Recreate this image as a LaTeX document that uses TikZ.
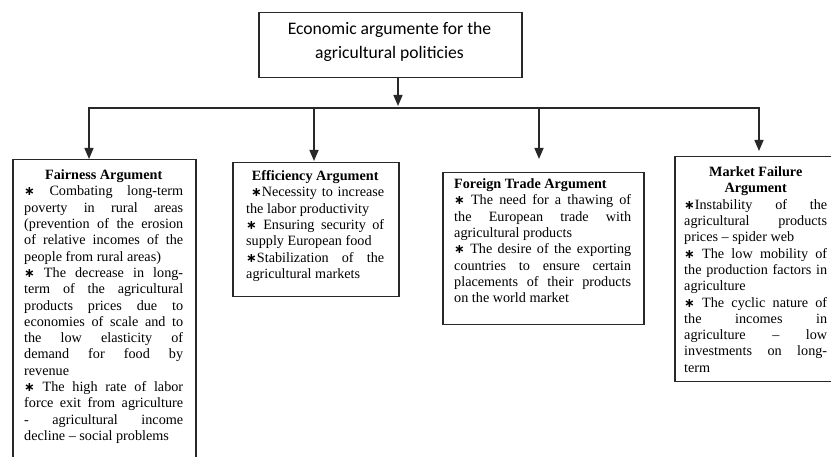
\documentclass[tikz,border=0pt]{standalone}
\usepackage{fontspec}
\setmainfont{Liberation Serif}
\newfontfamily\calfont{Carlito}
\newfontfamily\symfont{DejaVu Sans}[Scale=0.9]
\usetikzlibrary{arrows.meta}
\newcommand{\St}{{\symfont\bfseries ∗}}
\newcommand{\J}[1]{\hbox to\hsize{\strut#1}}
\newcommand{\R}[1]{\hbox{\strut#1}}
\newcommand{\C}[1]{\hbox to\hsize{\strut\hfil#1\hfil}}
\definecolor{ln}{RGB}{40,40,40}
\tikzset{
 box/.style={draw=ln, line width=1.5pt, inner sep=0pt, anchor=north west},
 txt/.style={inner sep=0pt, anchor=north west, font=\fontsize{14.2}{16.3}\selectfont, text=black},
 arr/.style={draw=ln, line width=1.5pt, -{Triangle[length=11pt,width=9pt]}},
 bus/.style={draw=ln, line width=1.5pt, line cap=rect}
}
\begin{document}
\begin{tikzpicture}[x=1pt,y=-1pt]
\useasboundingbox (0,0) rectangle (831,457);
\clip (0,0) rectangle (831,457);
\fill[white] (0,0) rectangle (831,457);

% boxes
\node[box, minimum width=263pt, minimum height=65pt] (top) at (258,12) {};
\node[box, minimum width=183pt, minimum height=330pt] (fair) at (12,159) {};
\node[box, minimum width=166pt, minimum height=134pt] (eff) at (232,162) {};
\node[box, minimum width=201pt, minimum height=152pt] (ftr) at (442,172) {};
\node[box, minimum width=170pt, minimum height=225pt] (mkt) at (674,156) {};

% title text
\node[inner sep=0pt, font=\calfont\fontsize{17.6}{24}\selectfont] (toptxt) at (389.5,42.2)
 {\vtop{\hsize=230pt \C{Economic argumente for the}\C{agricultural politicies}}};

% fairness
\node[txt] (fairtxt) at (24,168) {\vtop{\hsize=159pt
\C{\bfseries Fairness Argument}
\J{\St{} Combating long-term}
\J{poverty in rural areas}
\J{(prevention of the erosion}
\J{of relative incomes of the}
\R{people from rural areas)}
\J{\St{} The decrease in long-}
\J{term of the agricultural}
\J{products prices due to}
\J{economies of scale and to}
\J{the low elasticity of}
\J{demand for food by}
\R{revenue}
\J{\St{} The high rate of labor}
\J{force exit from agriculture}
\J{- agricultural income}
\R{decline – social problems}}};

% efficiency
\node[txt] (efftxt) at (246,169) {\vtop{\hsize=138pt
\C{\bfseries Efficiency Argument}
\J{ \St{}Necessity to increase}
\R{the labor productivity}
\J{\St{} Ensuring security of}
\R{supply European food}
\J{\St{}Stabilization of the}
\R{agricultural markets}}};

% foreign trade
\node[txt] (ftrtxt) at (454,177) {\vtop{\hsize=177pt
\R{\bfseries Foreign Trade Argument}
\J{\St{} The need for a thawing of}
\J{the European trade with}
\R{agricultural products}
\J{\St{} The desire of the exporting}
\J{countries to ensure certain}
\J{placements of their products}
\R{on the world market}}};

% market failure
\node[txt] (mkttxt) at (684,165) {\vtop{\hsize=143pt
\C{\bfseries Market Failure}
\C{\bfseries Argument}
\J{\St{}Instability of the}
\J{agricultural products}
\R{prices – spider web}
\J{\St{} The low mobility of}
\J{the production factors in}
\R{agriculture}
\J{\St{} The cyclic nature of}
\J{the incomes in}
\J{agriculture – low}
\J{investments on long-}
\R{term}}};

% connectors
\coordinate (bT) at (398,108);
\coordinate (bF) at (89,108);
\coordinate (bE) at (314,108);
\coordinate (bR) at (539,108);
\coordinate (bM) at (759,108);
\draw[bus] (bF) -- (bM);
\draw[arr, shorten >=2pt] (bT |- top.south) -- (bT);
\draw[arr] (bF) -- (bF |- fair.north);
\draw[arr, shorten >=1pt] (bE) -- (bE |- eff.north);
\draw[arr, shorten >=13pt] (bR) -- (bR |- ftr.north);
\draw[arr, shorten >=5pt] (bM) -- (bM |- mkt.north);
\end{tikzpicture}
\end{document}
